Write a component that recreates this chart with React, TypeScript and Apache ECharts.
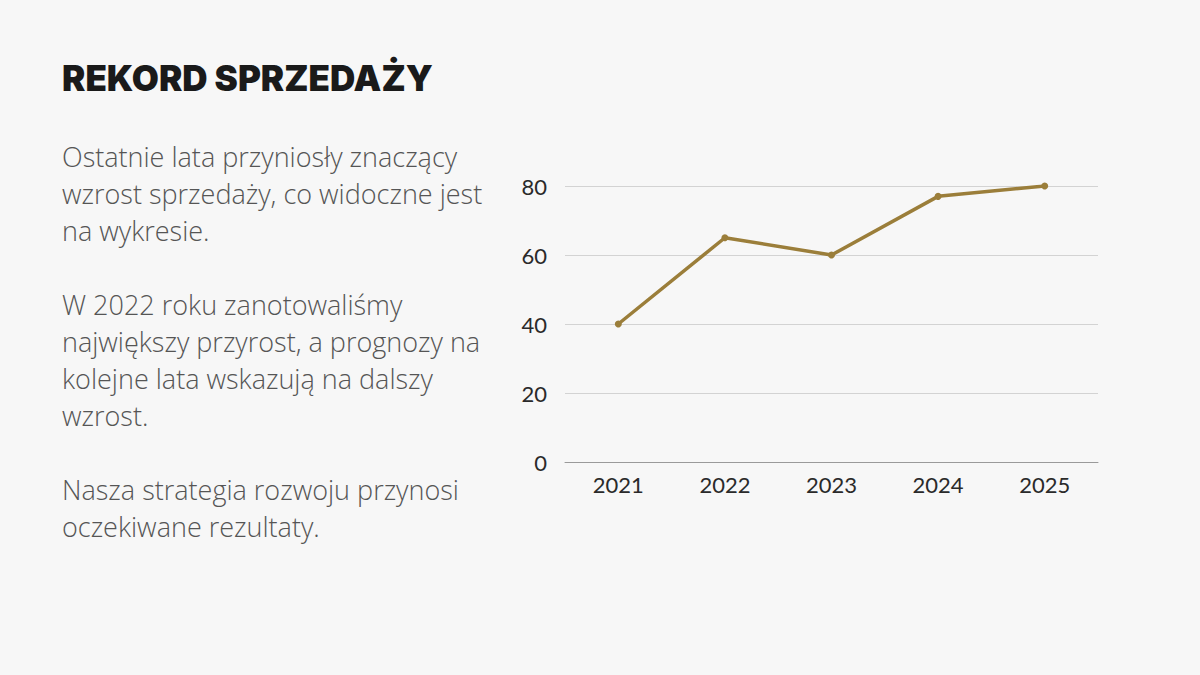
import React, { useEffect, useRef } from "react";
import * as echarts from "echarts";

const years = ["2021", "2022", "2023", "2024", "2025"];
const sales = [40, 65, 60, 77, 80];
const yTicks = [0, 20, 40, 60, 80];

const titleText = "REKORD SPRZEDAŻY";
const bodyLines = [
  "Ostatnie lata przyniosły znaczący",
  "wzrost sprzedaży, co widoczne jest",
  "na wykresie.",
  "",
  "W 2022 roku zanotowaliśmy",
  "największy przyrost, a prognozy na",
  "kolejne lata wskazują na dalszy",
  "wzrost.",
  "",
  "Nasza strategia rozwoju przynosi",
  "oczekiwane rezultaty.",
];

export default function App() {
  const ref = useRef<HTMLDivElement>(null);
  useEffect(() => {
    const chart = echarts.init(ref.current!, null, { renderer: "svg" });
    chart.setOption({
      animation: false,
      backgroundColor: "#f7f7f7",
      graphic: [
        {
          type: "text",
          left: 62,
          top: 60,
          style: {
            text: titleText,
            font: "900 35px Inter, 'Noto Sans', sans-serif",
            fill: "#1a1a1a",
          },
        },
        {
          type: "text",
          left: 62,
          top: 138,
          style: {
            text: bodyLines.join("\n"),
            font: "300 27px 'Open Sans', 'Noto Sans', sans-serif",
            lineHeight: 37,
            fill: "#555555",
          },
        },
      ],
      grid: { left: 565, right: 102, top: 186, bottom: 213 },
      xAxis: {
        type: "category",
        data: years,
        boundaryGap: true,
        axisLine: { lineStyle: { color: "#9a9a9a", width: 1 } },
        axisTick: { show: false },
        axisLabel: {
          color: "#2a2a2a",
          fontSize: 22,
          fontFamily: "Lato, 'Noto Sans', sans-serif",
          margin: 11,
        },
      },
      yAxis: {
        type: "value",
        min: yTicks[0],
        max: yTicks[yTicks.length - 1],
        interval: 20,
        axisLine: { show: false },
        axisTick: { show: false },
        splitLine: { lineStyle: { color: "#d3d3d3", width: 1 } },
        axisLabel: {
          color: "#2a2a2a",
          fontSize: 22,
          fontFamily: "Lato, 'Noto Sans', sans-serif",
          margin: 18,
        },
      },
      series: [
        {
          type: "line",
          data: sales,
          symbol: "circle",
          symbolSize: 7,
          lineStyle: { color: "#9b7e3a", width: 3.5 },
          itemStyle: { color: "#9b7e3a" },
        },
      ],
    });
    return () => chart.dispose();
  }, []);
  return (
    <div
      ref={ref}
      style={{ position: "fixed", left: 0, top: 0, width: 1200, height: 675 }}
    />
  );
}
